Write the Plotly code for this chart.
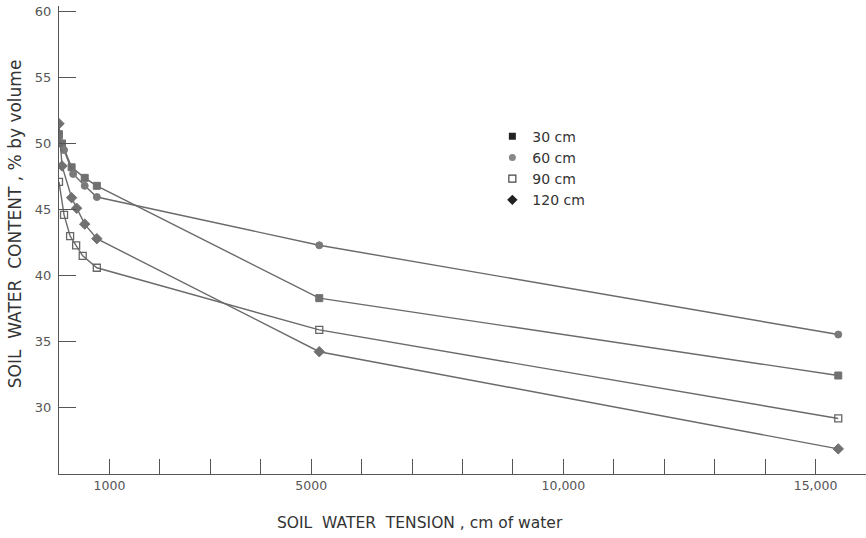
import plotly.graph_objects as go

# Soil water tension (cm of water) and water content (% by volume)
x_30 = [0, 60, 250, 510, 750, 5160, 15450]
y_30 = [50.7, 50.0, 48.2, 47.4, 46.8, 38.3, 32.45]

x_60 = [0, 100, 280, 510, 750, 5160, 15450]
y_60 = [50.4, 49.5, 47.7, 46.8, 45.95, 42.3, 35.55]

x_90 = [0, 100, 220, 340, 470, 750, 5160, 15450]
y_90 = [47.1, 44.6, 43.0, 42.3, 41.5, 40.6, 35.9, 29.2]

x_120 = [0, 60, 250, 350, 510, 750, 5160, 15450]
y_120 = [51.5, 48.3, 45.9, 45.1, 43.9, 42.8, 34.25, 26.9]

series_names = ["30 cm", "60 cm", "90 cm", "120 cm"]
x_tickvals = list(range(1000, 16001, 1000))
x_ticklabels = {1000: "1000", 5000: "5000", 10000: "10,000", 15000: "15,000"}
y_tickvals = [30, 35, 40, 45, 50, 55, 60]

FONT = "DejaVu Sans"
LINE = "#6a6a6a"

styles = [
    dict(symbol="square", color="#707070", line=dict(color="#707070", width=1), size=7),
    dict(symbol="circle", color="#7a7a7a", line=dict(color="#7a7a7a", width=1), size=7),
    dict(symbol="square-open", color="#666666", line=dict(color="#666666", width=1.3), size=7),
    dict(symbol="diamond", color="#707070", line=dict(color="#707070", width=1), size=8),
]
legend_styles = [
    dict(symbol="square", color="#222222", size=7),
    dict(symbol="circle", color="#888888", size=7),
    dict(symbol="square-open", color="#444444", size=7, line=dict(width=1.2)),
    dict(symbol="diamond", color="#222222", size=8),
]

fig = go.Figure()
data = [(x_30, y_30), (x_60, y_60), (x_90, y_90), (x_120, y_120)]
for (xs, ys), name, st in zip(data, series_names, styles):
    fig.add_trace(go.Scatter(
        x=xs, y=ys, mode="lines+markers", name=name, showlegend=False,
        line=dict(color=LINE, width=1.4),
        marker=st,
    ))
for name, st in zip(series_names, legend_styles):
    fig.add_trace(go.Scatter(
        x=[None], y=[None], mode="markers", name=name, marker=st,
    ))

fig.update_layout(
    width=866, height=538,
    margin=dict(l=59, r=0, t=6, b=64),
    plot_bgcolor="white", paper_bgcolor="white",
    font=dict(family=FONT, color="#444444", size=13),
    legend=dict(
        x=0.537, y=0.755, xanchor="left", yanchor="top",
        font=dict(size=14, color="#333333", family=FONT),
        bgcolor="rgba(0,0,0,0)", itemwidth=30, tracegroupgap=0,
    ),
    xaxis=dict(
        range=[0, 16000], showgrid=False, zeroline=False,
        showline=True, linecolor="#555555", linewidth=1.4,
        ticks="inside", ticklen=15, tickcolor="#555555", tickwidth=1.2,
        tickvals=x_tickvals,
        ticktext=[x_ticklabels.get(v, "") for v in x_tickvals],
        tickfont=dict(size=12.5, color="#555555", family=FONT),
    ),
    yaxis=dict(
        range=[25, 60.4], showgrid=False, zeroline=False,
        showline=True, linecolor="#555555", linewidth=1.4,
        ticks="inside", ticklen=17, tickcolor="#555555", tickwidth=1.2,
        tickvals=y_tickvals, ticklabelstandoff=4,
        tickfont=dict(size=13, color="#555555", family=FONT),
    ),
    annotations=[
        dict(text="SOIL  WATER  TENSION , cm of water", xref="paper", yref="paper",
             x=0.447, y=-0.105, xanchor="center", yanchor="middle", showarrow=False,
             font=dict(size=15.5, color="#333333", family=FONT)),
        dict(text="SOIL  WATER  CONTENT , % by volume", xref="paper", yref="paper",
             x=-0.055, y=0.535, xanchor="center", yanchor="middle", showarrow=False,
             textangle=-90, font=dict(size=17, color="#333333", family=FONT)),
    ],
)

fig.write_html("out.html")
